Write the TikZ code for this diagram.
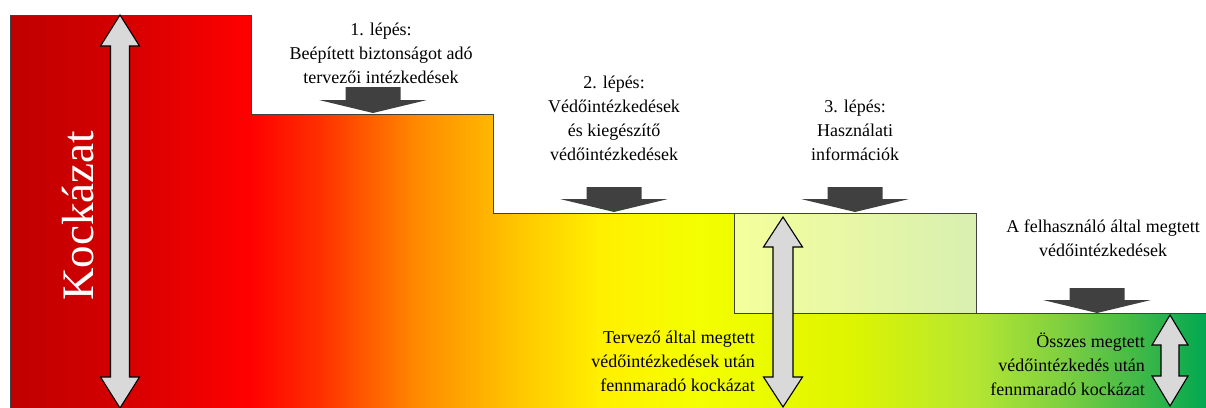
\documentclass[tikz,border=0pt]{standalone}
\usepackage{fontspec}
\setmainfont{Liberation Serif}
\definecolor{c0}{HTML}{C00000}
\definecolor{c1}{HTML}{D40000}
\definecolor{c2}{HTML}{FF0000}
\definecolor{c3}{HTML}{FF3000}
\definecolor{c4}{HTML}{FF8C00}
\definecolor{c5}{HTML}{FFC800}
\definecolor{c6}{HTML}{FFF000}
\definecolor{c7}{HTML}{F4FF00}
\definecolor{c8}{HTML}{DDF500}
\definecolor{c9}{HTML}{B4E632}
\definecolor{c10}{HTML}{80D040}
\definecolor{c11}{HTML}{40B848}
\definecolor{c12}{HTML}{00A850}
\definecolor{edgegray}{HTML}{404040}
\definecolor{arrowgray}{HTML}{D9D9D9}
\definecolor{arrowdark}{HTML}{404040}
\definecolor{boxl}{HTML}{F4FF9C}
\definecolor{boxr}{HTML}{D8EFB0}
\pgfdeclarehorizontalshading{riskshade}{100bp}{color(0bp)=(c0); color(25bp)=(c0); color(29.6bp)=(c1); color(35bp)=(c2); color(37.96bp)=(c3); color(42.14bp)=(c4); color(46.32bp)=(c5); color(49.67bp)=(c6); color(53.85bp)=(c7); color(60.12bp)=(c8); color(65.34bp)=(c9); color(68.9bp)=(c10); color(72.24bp)=(c11); color(75bp)=(c12); color(100bp)=(c12)}
\newcommand\udarr[6]{%
  \draw[grayarrow] (#1,#2) -- ({#1+#5},{#2+#6}) -- ({#1+#4},{#2+#6}) -- ({#1+#4},{#3-#6}) -- ({#1+#5},{#3-#6}) -- (#1,#3) -- ({#1-#5},{#3-#6}) -- ({#1-#4},{#3-#6}) -- ({#1-#4},{#2+#6}) -- ({#1-#5},{#2+#6}) -- cycle;}
\newcommand\dnarr[6]{%
  \fill[arrowdark] ({#1-#5},#2) -- ({#1+#5},#2) -- ({#1+#5},#3) -- ({#1+#6},#3) -- (#1,#4) -- ({#1-#6},#3) -- ({#1-#5},#3) -- cycle;}
\begin{document}
\begin{tikzpicture}[x=1pt,y=-1pt,
  outl/.style={draw=edgegray, line width=0.9pt, line join=miter},
  grayarrow/.style={fill=arrowgray, draw=black, line width=1.1pt, line join=miter},
  lbl/.style={font=\fontsize{18}{24}\selectfont, inner sep=0pt, align=center}]
\useasboundingbox (0,0) rectangle (1206,407);
\shade[shading=riskshade] (10,410) -- (10,15) -- (251,15) -- (251,114) -- (493,114) -- (493,213) -- (734,213) -- (734,313) -- (1206,313) -- (1206,410) -- cycle;
\draw[outl] (10,410) -- (10,15) -- (251,15) -- (251,114) -- (493,114) -- (493,213) -- (734,213) -- (734,313) -- (1206,313);
\draw[outl, left color=boxl, right color=boxr] (734,213) rectangle (976,313);
% double arrows
\udarr{120}{15}{408}{9.5}{19.5}{31}
\udarr{783}{217}{407}{10}{19.5}{30}
\udarr{1170}{315}{406}{9}{18}{30}
% down arrows
\dnarr{373}{87}{100}{113}{27.5}{54}
\dnarr{614}{187}{199}{212}{27.5}{54}
\dnarr{855}{187}{199}{212}{27.5}{54}
\dnarr{1097}{288}{300}{313}{27.5}{54}
% texts
\node[font=\fontsize{45}{54}\selectfont, text=white, rotate=90, anchor=base, inner sep=0pt] (k) at (93,216) {Kockázat};
\node[lbl, anchor=north] (s1) at (381,22.7) {1. lépés:\\Beépített biztonságot adó\\tervezői intézkedések};
\node[lbl, anchor=north] (s2) at (614,75.7) {2. lépés:\\Védőintézkedések\\és kiegészítő\\védőintézkedések};
\node[lbl, anchor=north] (s3) at (855,99.7) {3. lépés:\\Használati\\információk};
\node[lbl, anchor=north] (s4) at (1103,219.7) {A felhasználó által megtett\\védőintézkedések};
\node[lbl, align=right, anchor=north east] (r1) at (755,330.7) {Tervező által megtett\\védőintézkedések után\\fennmaradó kockázat};
\node[lbl, align=right, anchor=north east] (r2) at (1145,332.5) {Összes megtett\\védőintézkedés után\\fennmaradó kockázat};
\end{tikzpicture}
\end{document}
